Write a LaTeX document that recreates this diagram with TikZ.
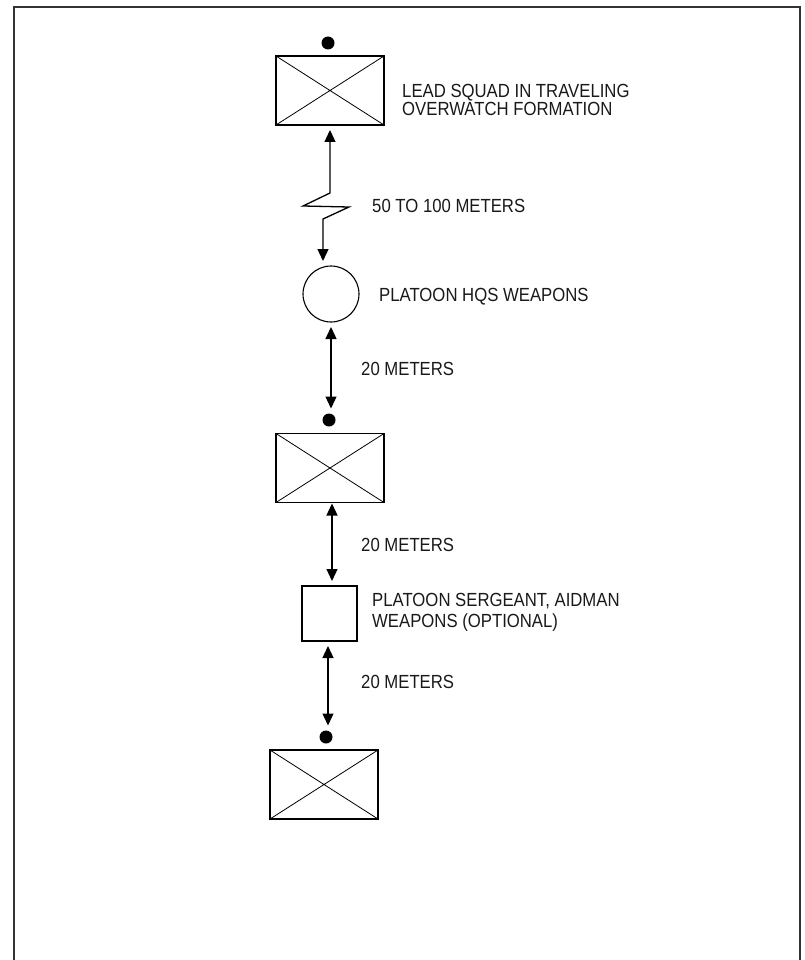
\documentclass[tikz,border=0pt]{standalone}
\usepackage{fontspec}
\setmainfont[FakeStretch=0.88]{Liberation Sans}
\usetikzlibrary{arrows.meta,positioning}

\tikzset{%
  squad/.style={draw, line width=1.6pt, minimum width=108pt, minimum height=69pt, inner sep=0pt, outer sep=0pt,
    path picture={\draw[line width=0.8pt] (path picture bounding box.north west) -- (path picture bounding box.south east)
      (path picture bounding box.south west) -- (path picture bounding box.north east);}},
  leader/.style={circle, fill=black, minimum size=13pt, inner sep=0pt, outer sep=0pt},
  hqs/.style={circle, draw, line width=1.1pt, minimum size=56pt, inner sep=0pt, outer sep=0pt},
  psg/.style={draw, line width=1.3pt, minimum size=55pt, inner sep=0pt, outer sep=0pt},
  texto/.style={anchor=west, inner sep=0pt, align=left, text=black!90, font=\fontsize{19}{19}\selectfont},
  frame/.style={draw, line width=2pt, color=black!80},
  twoway/.style={draw, line width=1.3pt, {Triangle[length=12pt,width=11pt]}-{Triangle[length=12pt,width=11pt]}, shorten <=5pt, shorten >=5pt},
}

\begin{document}
\begin{tikzpicture}[x=1pt, y=-1pt]
\useasboundingbox (0,0) rectangle (804,960);
\draw[frame] (14,960) -- (14,7) -- (800,7) -- (800,960);

% formation from front to rear
\node [squad] (b1) at (330,90.5) {};
\node [leader, above=6.5pt of b1.north, xshift=-2pt] (d1) {};
\node [hqs] (hq) at (331,294) {};
\node [squad] (b2) at (330,468) {};
\node [leader, above=7pt of b2.north, xshift=-1pt] (d2) {};
\node [psg] (sq) at (329.5,613.5) {};
\node [squad] (b3) at (324,784.5) {};
\node [leader, above=6.5pt of b3.north, xshift=2pt] (d3) {};

% labels
\node [texto, font=\fontsize{19}{16.7}\selectfont] (lead) at (402,100) {LEAD SQUAD IN TRAVELING\\OVERWATCH FORMATION};
\node [texto] (far) at (372,206) {50 TO 100 METERS};
\node [texto] (hqtxt) at (379,297) {PLATOON HQS WEAPONS};
\node [texto] (m1) at (361,369) {20 METERS};
\node [texto] (m2) at (361,545) {20 METERS};
\node [texto, font=\fontsize{19}{21}\selectfont] (sgt) at (372,612.5) {PLATOON SERGEANT, AIDMAN\\WEAPONS (OPTIONAL)};
\node [texto] (m3) at (361,682) {20 METERS};

% distance break
\coordinate (z1) at (330,193);
\coordinate (z2) at (303,206);
\coordinate (z3) at (349,207);
\coordinate (z4) at (323,219);

\draw[twoway] (b1.south) -- (z1) -- (z2) -- (z3) -- (z4) -- (z4 |- hq.north);
\draw[twoway] (hq.south) -- (hq.south |- d2.north);
\draw[twoway, shorten <=1pt] ([xshift=2pt]b2.south) -- ([xshift=2pt]b2.south |- sq.north);
\draw[twoway] ([xshift=-1.5pt]sq.south) -- ([xshift=-1.5pt]sq.south |- d3.north);
\end{tikzpicture}
\end{document}
